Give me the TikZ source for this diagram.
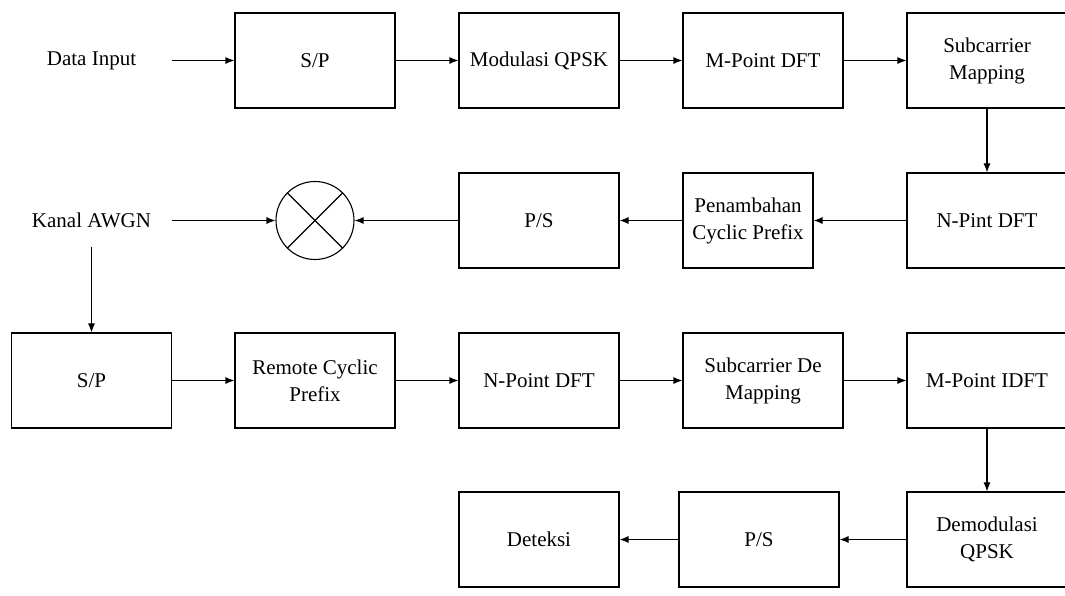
\documentclass[tikz,border=0pt]{standalone}
\usepackage{fontspec}
\setmainfont{Liberation Serif}
\newfontfamily\tnr{Liberation Serif}
\usetikzlibrary{arrows.meta}
\begin{document}
\begin{tikzpicture}[x=1pt,y=-1pt,
  blk/.style={draw, line width=1.1pt, minimum width=160pt, minimum height=95pt, inner sep=0pt, align=center, font=\tnr\fontsize{21}{27}\selectfont},
  lbl/.style={minimum width=160pt, minimum height=52pt, inner sep=0pt, align=center, font=\tnr\fontsize{21}{27}\selectfont},
  arr/.style={line width=1.1pt, -{Latex[length=9pt,width=7pt]}},
  ln/.style={line width=1.1pt}]
\useasboundingbox (0,0) rectangle (1065,596);
\fill[white] (0,0) rectangle (1065,596);
\clip (0,0) rectangle (1065,596);
% row 1
\node[lbl] (din) at (91.5,60.5) {Data Input};
\node[blk] (sp1) at (315,60.5) {S/P};
\node[blk] (mod) at (539,60.5) {Modulasi QPSK};
\node[blk] (mdft) at (763,60.5) {M-Point DFT};
\node[blk] (scm) at (987,60.5) {Subcarrier\\Mapping};
% row 2
\node[blk] (ndft) at (987,220.5) {N-Pint DFT};
\node[blk, minimum width=130pt] (cp) at (748,220.5) {Penambahan\\Cyclic Prefix};
\node[blk] (ps1) at (539,220.5) {P/S};
\node[draw, circle, line width=1.1pt, minimum size=78pt, inner sep=0pt] (mix) at (315,220.5) {};
\draw[ln] (mix.north west) -- (mix.south east);
\draw[ln] (mix.north east) -- (mix.south west);
\node[lbl] (awgn) at (91.5,220.5) {Kanal AWGN};
% row 3
\node[blk] (sp2) at (91.5,380.5) {S/P};
\node[blk] (rcp) at (315,380.5) {Remote Cyclic\\Prefix};
\node[blk] (npdft) at (539,380.5) {N-Point DFT};
\node[blk] (scdm) at (763,380.5) {Subcarrier De\\Mapping};
\node[blk] (midft) at (987,380.5) {M-Point IDFT};
% row 4
\node[blk] (demod) at (987,539.5) {Demodulasi\\QPSK};
\node[blk] (ps2) at (759,539.5) {P/S};
\node[blk] (det) at (539,539.5) {Deteksi};
% connectors
\draw[arr] (din.east) -- (sp1.west);
\draw[arr] (sp1.east) -- (mod.west);
\draw[arr] (mod.east) -- (mdft.west);
\draw[arr] (mdft.east) -- (scm.west);
\draw[arr] (scm.south) -- (ndft.north);
\draw[arr] (ndft.west) -- (cp.east);
\draw[arr] (cp.west) -- (ps1.east);
\draw[arr] (ps1.west) -- (mix.east);
\draw[arr] (awgn.east) -- (mix.west);
\draw[arr] (awgn.south) -- (sp2.north);
\draw[arr] (sp2.east) -- (rcp.west);
\draw[arr] (rcp.east) -- (npdft.west);
\draw[arr] (npdft.east) -- (scdm.west);
\draw[arr] (scdm.east) -- (midft.west);
\draw[arr] (midft.south) -- (demod.north);
\draw[arr] (demod.west) -- (ps2.east);
\draw[arr] (ps2.west) -- (det.east);
\end{tikzpicture}
\end{document}
